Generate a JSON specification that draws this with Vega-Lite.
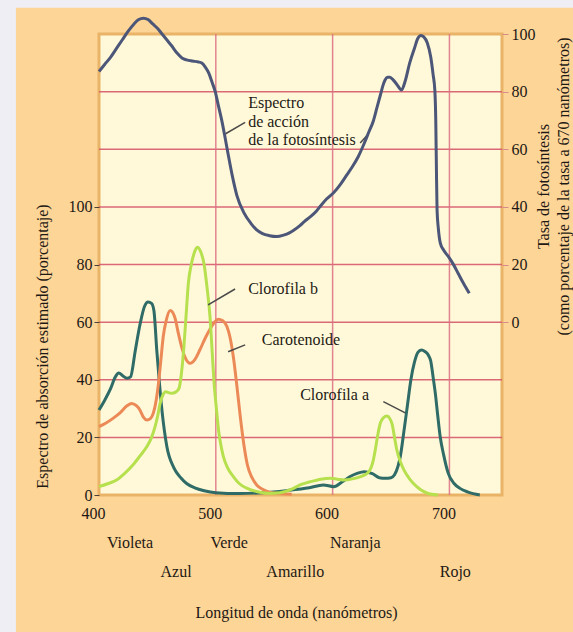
{
  "$schema": "https://vega.github.io/schema/vega-lite/v6.json",
  "width": 403,
  "height": 461,
  "autosize": {"type": "none"},
  "padding": {"left": 99, "top": 34, "right": 71, "bottom": 137},
  "background": "#EEEEF4",
  "config": {
    "font": "Liberation Serif",
    "view": {"stroke": null},
    "axis": {"labelFontSize": 16, "titleFontSize": 16, "titleFontWeight": "normal", "labelColor": "#1e1914", "titleColor": "#1e1914", "grid": false, "domain": false},
    "text": {"font": "Liberation Serif", "fontSize": 16, "color": "#1e1914"}
  },
  "datasets": {
    "curves": [
      {"nm": 400, "value": 29.5, "series": "Clorofila a"}, {"nm": 405, "value": 33, "series": "Clorofila a"}, {"nm": 410, "value": 37, "series": "Clorofila a"}, {"nm": 414, "value": 41, "series": "Clorofila a"}, {"nm": 417, "value": 42.3, "series": "Clorofila a"}, {"nm": 420, "value": 41.5, "series": "Clorofila a"}, {"nm": 424, "value": 40.5, "series": "Clorofila a"}, {"nm": 427, "value": 41, "series": "Clorofila a"}, {"nm": 431, "value": 50, "series": "Clorofila a"}, {"nm": 435, "value": 59, "series": "Clorofila a"}, {"nm": 439, "value": 65.5, "series": "Clorofila a"}, {"nm": 442, "value": 67, "series": "Clorofila a"}, {"nm": 445, "value": 66.5, "series": "Clorofila a"}, {"nm": 447, "value": 64, "series": "Clorofila a"}, {"nm": 449.5, "value": 50, "series": "Clorofila a"}, {"nm": 451.5, "value": 40, "series": "Clorofila a"}, {"nm": 454, "value": 29, "series": "Clorofila a"}, {"nm": 458, "value": 17, "series": "Clorofila a"}, {"nm": 464, "value": 9.5, "series": "Clorofila a"}, {"nm": 470, "value": 6, "series": "Clorofila a"}, {"nm": 475, "value": 4, "series": "Clorofila a"}, {"nm": 482, "value": 2.5, "series": "Clorofila a"}, {"nm": 490, "value": 1.5, "series": "Clorofila a"}, {"nm": 500, "value": 0.8, "series": "Clorofila a"}, {"nm": 520, "value": 0.5, "series": "Clorofila a"}, {"nm": 540, "value": 0.8, "series": "Clorofila a"}, {"nm": 560, "value": 1.5, "series": "Clorofila a"}, {"nm": 580, "value": 2.5, "series": "Clorofila a"}, {"nm": 592, "value": 3.5, "series": "Clorofila a"}, {"nm": 601, "value": 2.9, "series": "Clorofila a"}, {"nm": 608, "value": 4.5, "series": "Clorofila a"}, {"nm": 615, "value": 6.4, "series": "Clorofila a"}, {"nm": 621, "value": 7.5, "series": "Clorofila a"}, {"nm": 627, "value": 8.1, "series": "Clorofila a"}, {"nm": 634, "value": 7.4, "series": "Clorofila a"}, {"nm": 640, "value": 6, "series": "Clorofila a"}, {"nm": 645, "value": 5.8, "series": "Clorofila a"}, {"nm": 650, "value": 6, "series": "Clorofila a"}, {"nm": 653, "value": 7, "series": "Clorofila a"}, {"nm": 656, "value": 10, "series": "Clorofila a"}, {"nm": 658, "value": 13.5, "series": "Clorofila a"}, {"nm": 661, "value": 22, "series": "Clorofila a"}, {"nm": 664, "value": 31, "series": "Clorofila a"}, {"nm": 667, "value": 40, "series": "Clorofila a"}, {"nm": 670, "value": 46, "series": "Clorofila a"}, {"nm": 673, "value": 49.5, "series": "Clorofila a"}, {"nm": 676, "value": 50.3, "series": "Clorofila a"}, {"nm": 679, "value": 49.8, "series": "Clorofila a"}, {"nm": 682, "value": 48.5, "series": "Clorofila a"}, {"nm": 684, "value": 46.5, "series": "Clorofila a"}, {"nm": 686, "value": 41, "series": "Clorofila a"}, {"nm": 688, "value": 35, "series": "Clorofila a"}, {"nm": 690, "value": 27.5, "series": "Clorofila a"}, {"nm": 692, "value": 20.5, "series": "Clorofila a"}, {"nm": 695, "value": 14, "series": "Clorofila a"}, {"nm": 699, "value": 7.5, "series": "Clorofila a"}, {"nm": 704, "value": 4, "series": "Clorofila a"}, {"nm": 709, "value": 2.3, "series": "Clorofila a"}, {"nm": 716, "value": 1, "series": "Clorofila a"}, {"nm": 726, "value": 0, "series": "Clorofila a"},
      {"nm": 400, "value": 23.7, "series": "Carotenoide"}, {"nm": 406, "value": 25, "series": "Carotenoide"}, {"nm": 412, "value": 26.6, "series": "Carotenoide"}, {"nm": 418, "value": 28.5, "series": "Carotenoide"}, {"nm": 424, "value": 31, "series": "Carotenoide"}, {"nm": 428, "value": 31.8, "series": "Carotenoide"}, {"nm": 432, "value": 31, "series": "Carotenoide"}, {"nm": 435, "value": 29.5, "series": "Carotenoide"}, {"nm": 438, "value": 27, "series": "Carotenoide"}, {"nm": 441, "value": 26, "series": "Carotenoide"}, {"nm": 444, "value": 26.5, "series": "Carotenoide"}, {"nm": 446.5, "value": 28.4, "series": "Carotenoide"}, {"nm": 449, "value": 33, "series": "Carotenoide"}, {"nm": 451, "value": 39, "series": "Carotenoide"}, {"nm": 453, "value": 47, "series": "Carotenoide"}, {"nm": 455, "value": 55, "series": "Carotenoide"}, {"nm": 457.5, "value": 60.5, "series": "Carotenoide"}, {"nm": 461, "value": 64, "series": "Carotenoide"}, {"nm": 465, "value": 61.5, "series": "Carotenoide"}, {"nm": 468, "value": 56, "series": "Carotenoide"}, {"nm": 471, "value": 51, "series": "Carotenoide"}, {"nm": 474, "value": 47.5, "series": "Carotenoide"}, {"nm": 478, "value": 45.7, "series": "Carotenoide"}, {"nm": 482, "value": 47, "series": "Carotenoide"}, {"nm": 486.5, "value": 50.5, "series": "Carotenoide"}, {"nm": 491, "value": 54.5, "series": "Carotenoide"}, {"nm": 495, "value": 57.5, "series": "Carotenoide"}, {"nm": 499, "value": 60, "series": "Carotenoide"}, {"nm": 502, "value": 61, "series": "Carotenoide"}, {"nm": 506, "value": 60.5, "series": "Carotenoide"}, {"nm": 509.5, "value": 58.5, "series": "Carotenoide"}, {"nm": 512, "value": 55, "series": "Carotenoide"}, {"nm": 515, "value": 48, "series": "Carotenoide"}, {"nm": 518, "value": 38, "series": "Carotenoide"}, {"nm": 521, "value": 27, "series": "Carotenoide"}, {"nm": 524, "value": 17.5, "series": "Carotenoide"}, {"nm": 527, "value": 10.5, "series": "Carotenoide"}, {"nm": 531, "value": 6, "series": "Carotenoide"}, {"nm": 535, "value": 3.5, "series": "Carotenoide"}, {"nm": 540, "value": 2, "series": "Carotenoide"}, {"nm": 546, "value": 1, "series": "Carotenoide"}, {"nm": 555, "value": 0.5, "series": "Carotenoide"}, {"nm": 565, "value": 0.3, "series": "Carotenoide"},
      {"nm": 400, "value": 2.9, "series": "Clorofila b"}, {"nm": 408, "value": 4, "series": "Clorofila b"}, {"nm": 415, "value": 5.2, "series": "Clorofila b"}, {"nm": 422, "value": 7.5, "series": "Clorofila b"}, {"nm": 429, "value": 10.4, "series": "Clorofila b"}, {"nm": 435, "value": 13.5, "series": "Clorofila b"}, {"nm": 441, "value": 16.8, "series": "Clorofila b"}, {"nm": 445, "value": 20, "series": "Clorofila b"}, {"nm": 448, "value": 23.7, "series": "Clorofila b"}, {"nm": 450.5, "value": 28, "series": "Clorofila b"}, {"nm": 452.3, "value": 31.8, "series": "Clorofila b"}, {"nm": 454.5, "value": 34.5, "series": "Clorofila b"}, {"nm": 457, "value": 35.8, "series": "Clorofila b"}, {"nm": 462, "value": 35.3, "series": "Clorofila b"}, {"nm": 466, "value": 35.8, "series": "Clorofila b"}, {"nm": 468.5, "value": 37, "series": "Clorofila b"}, {"nm": 470.5, "value": 42, "series": "Clorofila b"}, {"nm": 472.5, "value": 50.5, "series": "Clorofila b"}, {"nm": 474.5, "value": 62, "series": "Clorofila b"}, {"nm": 476.5, "value": 73.5, "series": "Clorofila b"}, {"nm": 479, "value": 80, "series": "Clorofila b"}, {"nm": 481.5, "value": 84, "series": "Clorofila b"}, {"nm": 484, "value": 86, "series": "Clorofila b"}, {"nm": 487, "value": 84.5, "series": "Clorofila b"}, {"nm": 490, "value": 80, "series": "Clorofila b"}, {"nm": 492.5, "value": 72, "series": "Clorofila b"}, {"nm": 495, "value": 62, "series": "Clorofila b"}, {"nm": 497, "value": 49, "series": "Clorofila b"}, {"nm": 498.5, "value": 39, "series": "Clorofila b"}, {"nm": 500.5, "value": 30, "series": "Clorofila b"}, {"nm": 502.5, "value": 22, "series": "Clorofila b"}, {"nm": 504.5, "value": 17, "series": "Clorofila b"}, {"nm": 506.5, "value": 13.3, "series": "Clorofila b"}, {"nm": 510, "value": 9.5, "series": "Clorofila b"}, {"nm": 515, "value": 6.4, "series": "Clorofila b"}, {"nm": 520, "value": 4, "series": "Clorofila b"}, {"nm": 527, "value": 2.3, "series": "Clorofila b"}, {"nm": 535, "value": 1.2, "series": "Clorofila b"}, {"nm": 544, "value": 0.6, "series": "Clorofila b"}, {"nm": 555, "value": 0.8, "series": "Clorofila b"}, {"nm": 565, "value": 2, "series": "Clorofila b"}, {"nm": 572, "value": 3.5, "series": "Clorofila b"}, {"nm": 580, "value": 4.5, "series": "Clorofila b"}, {"nm": 590, "value": 5.5, "series": "Clorofila b"}, {"nm": 598, "value": 5.8, "series": "Clorofila b"}, {"nm": 604, "value": 5.5, "series": "Clorofila b"}, {"nm": 610, "value": 5.2, "series": "Clorofila b"}, {"nm": 617, "value": 5.6, "series": "Clorofila b"}, {"nm": 624, "value": 6.4, "series": "Clorofila b"}, {"nm": 629, "value": 7.3, "series": "Clorofila b"}, {"nm": 632, "value": 8.7, "series": "Clorofila b"}, {"nm": 634.5, "value": 11.5, "series": "Clorofila b"}, {"nm": 636.5, "value": 15.6, "series": "Clorofila b"}, {"nm": 638.5, "value": 20.5, "series": "Clorofila b"}, {"nm": 640.8, "value": 24.9, "series": "Clorofila b"}, {"nm": 643.5, "value": 26.8, "series": "Clorofila b"}, {"nm": 646.5, "value": 27.4, "series": "Clorofila b"}, {"nm": 649, "value": 26.5, "series": "Clorofila b"}, {"nm": 651, "value": 24.5, "series": "Clorofila b"}, {"nm": 653, "value": 20, "series": "Clorofila b"}, {"nm": 655, "value": 15.6, "series": "Clorofila b"}, {"nm": 658, "value": 11.5, "series": "Clorofila b"}, {"nm": 661, "value": 8.7, "series": "Clorofila b"}, {"nm": 666, "value": 5.5, "series": "Clorofila b"}, {"nm": 672, "value": 2.9, "series": "Clorofila b"}, {"nm": 681, "value": 0.6, "series": "Clorofila b"}, {"nm": 690, "value": 0, "series": "Clorofila b"}
    ],
    "action": [
      {"nm": 400, "rate": 87}, {"nm": 405, "rate": 89.5}, {"nm": 410, "rate": 92}, {"nm": 415, "rate": 95}, {"nm": 420, "rate": 98}, {"nm": 425, "rate": 101}, {"nm": 430, "rate": 103.5}, {"nm": 434, "rate": 105}, {"nm": 438, "rate": 105.5}, {"nm": 442, "rate": 105}, {"nm": 446, "rate": 103.5}, {"nm": 450, "rate": 102}, {"nm": 454, "rate": 100}, {"nm": 458, "rate": 98}, {"nm": 462, "rate": 96}, {"nm": 467, "rate": 93.3}, {"nm": 471, "rate": 91.7}, {"nm": 475, "rate": 91}, {"nm": 480, "rate": 90.6}, {"nm": 485, "rate": 90.3}, {"nm": 488, "rate": 89.9}, {"nm": 491, "rate": 88.5}, {"nm": 494, "rate": 86.4}, {"nm": 497, "rate": 83}, {"nm": 499.5, "rate": 80}, {"nm": 502, "rate": 75.5}, {"nm": 505, "rate": 70.2}, {"nm": 507.5, "rate": 65}, {"nm": 510, "rate": 59.5}, {"nm": 514, "rate": 51}, {"nm": 518, "rate": 44}, {"nm": 524, "rate": 38}, {"nm": 530, "rate": 34.3}, {"nm": 535, "rate": 32}, {"nm": 540, "rate": 30.7}, {"nm": 546, "rate": 30}, {"nm": 552, "rate": 29.7}, {"nm": 558, "rate": 30.2}, {"nm": 563, "rate": 31}, {"nm": 567, "rate": 32}, {"nm": 572, "rate": 33.5}, {"nm": 576, "rate": 35}, {"nm": 581, "rate": 36.6}, {"nm": 586, "rate": 38.5}, {"nm": 590, "rate": 40.5}, {"nm": 595, "rate": 42.8}, {"nm": 601, "rate": 45}, {"nm": 607, "rate": 48}, {"nm": 612, "rate": 51}, {"nm": 617, "rate": 54}, {"nm": 622, "rate": 57.5}, {"nm": 627, "rate": 62}, {"nm": 631, "rate": 66}, {"nm": 635, "rate": 70}, {"nm": 638, "rate": 74.5}, {"nm": 641, "rate": 79}, {"nm": 643, "rate": 82}, {"nm": 645, "rate": 84.1}, {"nm": 647, "rate": 85}, {"nm": 649, "rate": 85}, {"nm": 652, "rate": 84}, {"nm": 655, "rate": 82.5}, {"nm": 659, "rate": 80.6}, {"nm": 662, "rate": 83.5}, {"nm": 666, "rate": 90}, {"nm": 670, "rate": 95}, {"nm": 673, "rate": 98.5}, {"nm": 675.6, "rate": 99.5}, {"nm": 678, "rate": 99}, {"nm": 681, "rate": 97}, {"nm": 684, "rate": 92}, {"nm": 686, "rate": 86}, {"nm": 687.5, "rate": 80.5}, {"nm": 688.3, "rate": 70}, {"nm": 688.8, "rate": 55}, {"nm": 689.4, "rate": 39}, {"nm": 690.5, "rate": 32.5}, {"nm": 692.2, "rate": 27.4}, {"nm": 695, "rate": 25}, {"nm": 699, "rate": 22.8}, {"nm": 703, "rate": 20.3}, {"nm": 708, "rate": 16.5}, {"nm": 712, "rate": 13.5}, {"nm": 717, "rate": 10}
    ],
    "hgrid": [{"value": 20}, {"value": 40}, {"value": 60}, {"value": 80}, {"value": 100}, {"value": 120}, {"value": 140}],
    "vgrid": [{"nm": 500}, {"nm": 600}, {"nm": 700}],
    "leaders": [
      {"nm": 525.1, "value": 129.3, "nm2": 508, "value2": 125.3},
      {"nm": 623.6, "value": 122.2, "nm2": 629.6, "value2": 124.9},
      {"nm": 516.5, "value": 71.5, "nm2": 493.4, "value2": 66},
      {"nm": 525.1, "value": 52.1, "nm2": 510.5, "value2": 49.7},
      {"nm": 643.4, "value": 32.4, "nm2": 662.2, "value2": 28.5}
    ],
    "labels": [
      {"label": "Espectro", "nm": 527.7, "value": 136.1},
      {"label": "de acción", "nm": 527.7, "value": 129.6},
      {"label": "de la fotosíntesis", "nm": 527.7, "value": 123.3},
      {"label": "Clorofila b", "nm": 527.7, "value": 71.5},
      {"label": "Carotenoide", "nm": 539.4, "value": 53.8},
      {"label": "Clorofila a", "nm": 572.2, "value": 34.7}
    ],
    "colours": [
      {"name": "Violeta", "nm": 426.6, "row": 1},
      {"name": "Verde", "nm": 511.4, "row": 1},
      {"name": "Naranja", "nm": 619.4, "row": 1},
      {"name": "Azul", "nm": 466, "row": 2},
      {"name": "Amarillo", "nm": 568, "row": 2},
      {"name": "Rojo", "nm": 705, "row": 2}
    ]
  },
  "layer": [
    {
      "layer": [
        {
          "data": {"values": [{}]},
          "mark": {"type": "rect", "color": "#FDD597", "clip": false},
          "encoding": {
            "x": {"datum": 328.9, "type": "quantitative", "scale": {"domain": [400, 745], "nice": false, "zero": false}},
            "x2": {"datum": 830},
            "y": {"datum": 169.1, "type": "quantitative", "scale": {"domain": [0, 160], "nice": false, "zero": false}},
            "y2": {"datum": -60}
          }
        },
        {
          "data": {"values": [{}]},
          "mark": {"type": "rect", "fill": "#FFF9D9", "stroke": "#EAB468", "strokeWidth": 3, "clip": false},
          "encoding": {
            "x": {"datum": 400, "type": "quantitative"},
            "x2": {"datum": 745},
            "y": {"datum": 0, "type": "quantitative"},
            "y2": {"datum": 160}
          }
        },
        {
          "data": {"name": "hgrid"},
          "mark": {"type": "rule", "color": "#D6596D", "strokeWidth": 1.5, "opacity": 0.9},
          "encoding": {"y": {"field": "value", "type": "quantitative"}}
        },
        {
          "data": {"name": "vgrid"},
          "mark": {"type": "rule", "color": "#DC6F82", "strokeWidth": 1.5, "opacity": 0.85},
          "encoding": {"x": {"field": "nm", "type": "quantitative"}}
        },
        {
          "data": {"name": "curves"},
          "mark": {"type": "line", "interpolate": "monotone", "strokeWidth": 3, "clip": false},
          "encoding": {
            "x": {
              "field": "nm", "type": "quantitative",
              "axis": {"zindex": 2, "values": [400, 500, 600, 700], "title": "Longitud de onda (nanómetros)", "titleX": 197, "titleY": 117, "titleAlign": "center", "titleBaseline": "middle", "titleAnchor": null, "ticks": false, "labelPadding": 10, "labelBaseline": "top", "labelOffset": -6, "labelFlush": false}
            },
            "y": {
              "field": "value", "type": "quantitative",
              "axis": {"zindex": 2, "values": [0, 20, 40, 60, 80, 100], "title": "Espectro de absorción estimado (porcentaje)", "titleX": -57, "titleY": 312, "titleAngle": 270, "titleAlign": "center", "titleBaseline": "middle", "titleAnchor": null, "tickSize": 5, "tickColor": "#4a4038", "labelPadding": 2}
            },
            "color": {"field": "series", "type": "nominal", "scale": {"domain": ["Clorofila a", "Carotenoide", "Clorofila b"], "range": ["#2F6B67", "#EC8A57", "#B6E04E"]}, "legend": null},
            "order": {"field": "nm", "type": "quantitative"}
          }
        },
        {
          "data": {"name": "leaders"},
          "mark": {"type": "rule", "color": "#4a4a4a", "strokeWidth": 1.5},
          "encoding": {
            "x": {"field": "nm", "type": "quantitative"},
            "x2": {"field": "nm2"},
            "y": {"field": "value", "type": "quantitative"},
            "y2": {"field": "value2"}
          }
        },
        {
          "data": {"name": "labels"},
          "mark": {"type": "text", "align": "left", "baseline": "middle"},
          "encoding": {
            "x": {"field": "nm", "type": "quantitative"},
            "y": {"field": "value", "type": "quantitative"},
            "text": {"field": "label"}
          }
        },
        {
          "data": {"name": "colours"},
          "transform": [{"filter": "datum.row == 1"}],
          "mark": {"type": "text", "align": "center", "baseline": "middle", "dy": 48, "clip": false},
          "encoding": {
            "x": {"field": "nm", "type": "quantitative"},
            "y": {"datum": 0, "type": "quantitative"},
            "text": {"field": "name"}
          }
        },
        {
          "data": {"name": "colours"},
          "transform": [{"filter": "datum.row == 2"}],
          "mark": {"type": "text", "align": "center", "baseline": "middle", "dy": 77, "clip": false},
          "encoding": {
            "x": {"field": "nm", "type": "quantitative"},
            "y": {"datum": 0, "type": "quantitative"},
            "text": {"field": "name"}
          }
        }
      ]
    },
    {
      "data": {"name": "action"},
      "mark": {"type": "line", "interpolate": "monotone", "color": "#4C5678", "strokeWidth": 3, "clip": false},
      "encoding": {
        "x": {"field": "nm", "type": "quantitative"},
        "y": {
          "field": "rate", "type": "quantitative",
          "scale": {"domain": [-60, 100], "nice": false, "zero": false},
          "axis": {"zindex": 2, "orient": "right", "values": [0, 20, 40, 60, 80, 100], "title": ["Tasa de fotosíntesis", "(como porcentaje de la tasa a 670 nanómetros)"], "titleAngle": 270, "titleX": 33, "titleY": 152, "titleAlign": "center", "titleBaseline": "top", "titleLineHeight": 20, "titleAnchor": null, "tickSize": 6, "tickColor": "#D98A8A", "labelPadding": 3}
        },
        "order": {"field": "nm", "type": "quantitative"}
      }
    }
  ],
  "resolve": {"scale": {"y": "independent"}}
}
